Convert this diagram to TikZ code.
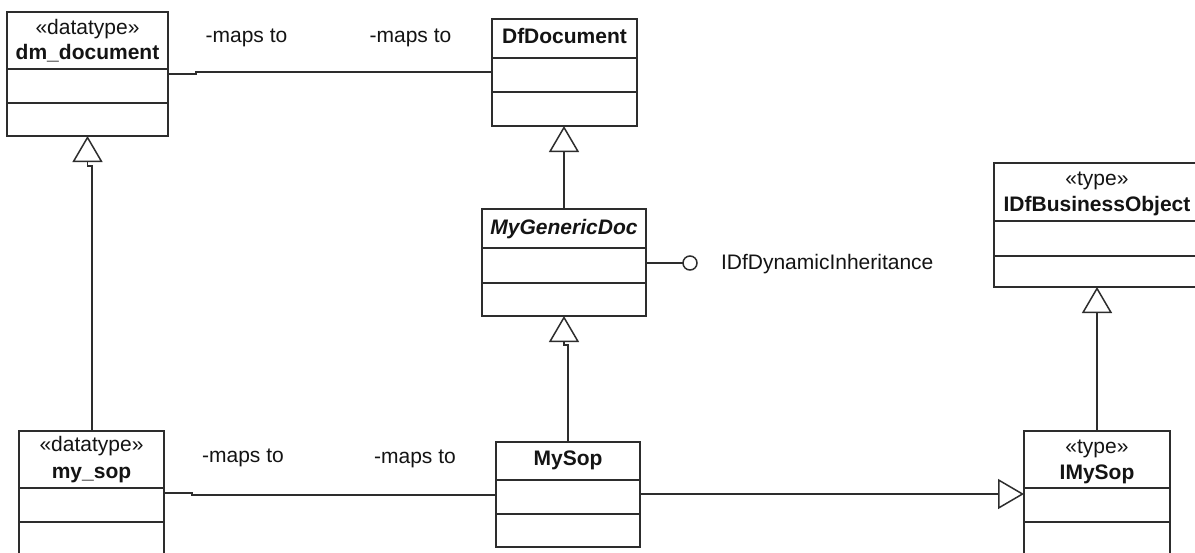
\documentclass[tikz,border=0pt]{standalone}
\usepackage{fontspec}
\setmainfont{Liberation Sans}
\usetikzlibrary{arrows.meta}
\definecolor{lc}{RGB}{45,45,45}
\definecolor{tc}{RGB}{20,20,20}
\tikzset{
  ln/.style={draw=lc, line width=1.5pt},
  umlbox/.style={draw=lc, line width=1.6pt, rectangle, inner sep=0pt, outer sep=0pt, anchor=north west, fill=white},
  txt/.style={anchor=base, inner sep=0pt, outer sep=0pt, font=\fontsize{21}{24}\selectfont, text=tc},
  gen/.style={-{Triangle[open, length=26pt, width=30pt]}},
  lolli/.style={circle, draw=lc, line width=1.5pt, fill=white, minimum size=14pt, inner sep=0pt, outer sep=0pt},
}
\begin{document}
\begin{tikzpicture}[x=1pt,y=-1pt]
\useasboundingbox (0,0) rectangle (1195,552);
\clip (0,0) rectangle (1195,552);
\fill[white] (0,0) rectangle (1195,552);

% class boxes
\node[umlbox, minimum width=161pt, minimum height=124pt] (dm) at (7,12) {};
\node[umlbox, minimum width=145pt, minimum height=107pt] (dfdoc) at (492,19) {};
\node[umlbox, minimum width=164pt, minimum height=107pt] (mygen) at (482,209) {};
\node[umlbox, minimum width=206pt, minimum height=124pt] (idfbo) at (994,163) {};
\node[umlbox, minimum width=145pt, minimum height=140pt] (mysopdt) at (19,431) {};
\node[umlbox, minimum width=144pt, minimum height=105pt] (mysop) at (496,442) {};
\node[umlbox, minimum width=146pt, minimum height=140pt] (imysop) at (1024,431) {};

% compartment dividers
\draw[ln] (dm.west |- 0,69) -- (dm.east |- 0,69);
\draw[ln] (dm.west |- 0,103) -- (dm.east |- 0,103);
\draw[ln] (dfdoc.west |- 0,58) -- (dfdoc.east |- 0,58);
\draw[ln] (dfdoc.west |- 0,92) -- (dfdoc.east |- 0,92);
\draw[ln] (mygen.west |- 0,248) -- (mygen.east |- 0,248);
\draw[ln] (mygen.west |- 0,283) -- (mygen.east |- 0,283);
\draw[ln] (idfbo.west |- 0,221) -- (idfbo.east |- 0,221);
\draw[ln] (idfbo.west |- 0,256) -- (idfbo.east |- 0,256);
\draw[ln] (mysopdt.west |- 0,488) -- (mysopdt.east |- 0,488);
\draw[ln] (mysopdt.west |- 0,522) -- (mysopdt.east |- 0,522);
\draw[ln] (mysop.west |- 0,480) -- (mysop.east |- 0,480);
\draw[ln] (mysop.west |- 0,514) -- (mysop.east |- 0,514);
\draw[ln] (imysop.west |- 0,488) -- (imysop.east |- 0,488);
\draw[ln] (imysop.west |- 0,522) -- (imysop.east |- 0,522);

% class texts
\node[txt] (dmst) at (87.5,34) {«datatype»};
\node[txt] (dmnm) at (87.5,59) {\bfseries dm\_document};
\node[txt] (dfnm) at (564.5,43) {\bfseries DfDocument};
\node[txt] (mgnm) at (564,234) {\bfseries\itshape MyGenericDoc};
\node[txt] (bost) at (1097,185) {«type»};
\node[txt] (bonm) at (1097,211) {\bfseries IDfBusinessObject};
\node[txt] (msst) at (91.5,451) {«datatype»};
\node[txt] (msnm) at (91.5,478) {\bfseries my\_sop};
\node[txt] (mynm) at (568,465) {\bfseries MySop};
\node[txt] (imst) at (1097,453) {«type»};
\node[txt] (imnm) at (1097,479) {\bfseries IMySop};

% associations
\draw[ln] (dm.east |- 0,74) -- (196,74) -- (196,72) -- (dfdoc.west |- 0,72);
\node[txt] (l1) at (246.5,42) {-maps to};
\node[txt] (l2) at (410.5,42) {-maps to};
\draw[ln] (mysopdt.east |- 0,493) -- (192,493) -- (192,495) -- (mysop.west |- 0,495);
\node[txt] (l3) at (243,462) {-maps to};
\node[txt] (l4) at (415,463) {-maps to};

% generalizations
\draw[ln, gen] (mysopdt.north -| 92,0) -- (92,166) -- (87.5,166) -- (dm.south);
\draw[ln, gen] (mygen.north) -- (dfdoc.south -| mygen.north);
\draw[ln, gen] (mysop.north) -- (568,345) -- (564,345) -- (mygen.south);
\draw[ln, gen] (imysop.north) -- (idfbo.south);
\draw[ln, gen] (mysop.east |- 0,494) -- (imysop.west |- 0,494);

% provided interface
\node[lolli] (ball) at (690,263) {};
\draw[ln] (mygen.east |- ball.west) -- (ball.west);
\node[txt, anchor=base west] (iface) at (721,269) {IDfDynamicInheritance};
\end{tikzpicture}
\end{document}
